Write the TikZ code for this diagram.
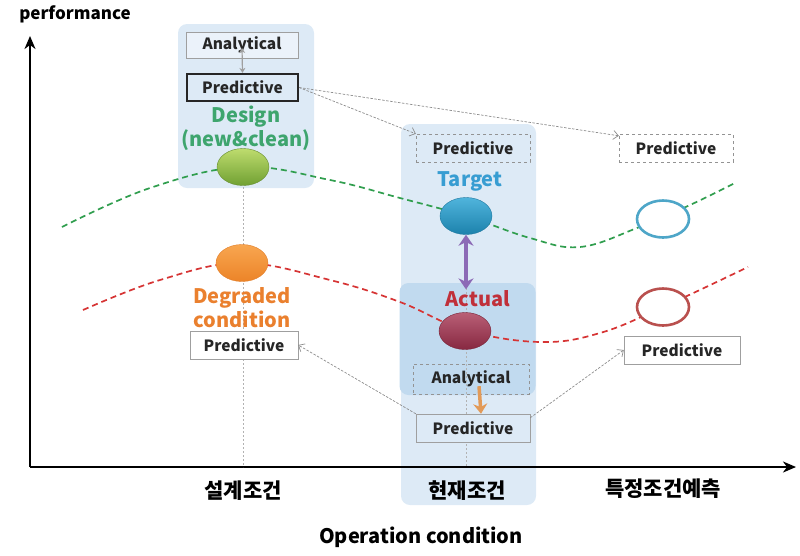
\documentclass[tikz,border=0pt]{standalone}
\usepackage{fontspec}
\setmainfont{Noto Sans CJK KR}
\usetikzlibrary{shapes.geometric, arrows, arrows.meta, positioning}
\definecolor{panelblue}{RGB}{221,234,246}
\definecolor{innerblue}{RGB}{193,218,239}
\definecolor{designgreen}{RGB}{62,165,110}
\definecolor{curvegreen}{RGB}{48,158,78}
\definecolor{curvered}{RGB}{214,52,52}
\definecolor{targetblue}{RGB}{56,157,210}
\definecolor{actualred}{RGB}{192,48,58}
\definecolor{degorange}{RGB}{234,128,46}
\definecolor{arrowpurple}{RGB}{140,106,182}
\definecolor{arroworange}{RGB}{226,154,88}
\definecolor{ringblue}{RGB}{78,166,200}
\definecolor{ringred}{RGB}{185,80,78}
\tikzstyle{panel} = [rectangle, rounded corners=9pt, fill=panelblue, draw=none]
\tikzstyle{box} = [rectangle, minimum width=114pt, minimum height=28pt, 
text centered, 
draw=gray!75, 
font=\bfseries\fontsize{15.5}{17}\selectfont, 
text=black!85]
\tikzstyle{dashbox} = [box, dashed, draw=gray!85]
\tikzstyle{blob} = [ellipse, minimum width=52pt, minimum height=37pt, inner sep=0pt, thin]
\tikzstyle{ring} = [blob, line width=2.6pt, fill=white]
\tikzstyle{tag} = [font=\bfseries\fontsize{20}{24}\selectfont, align=center]
\tikzstyle{trend} = [line width=1.7pt, dash pattern=on 6pt off 4pt]
\tikzstyle{guide} = [gray!60, thin, dash pattern=on 2pt off 2pt]
\tikzstyle{link} = [gray!90, line width=0.7pt, dash pattern=on 2.5pt off 1.5pt, -{Straight Barb[length=5pt, width=9pt]}]
\tikzstyle{arrow} = [line width=2pt, -{Stealth[length=13pt, width=11pt, inset=4pt]}]
\tikzstyle{fat} = [line width=3.5pt, {Stealth[length=11pt, width=15pt]}-{Stealth[length=11pt, width=15pt]}]

\begin{document}
\begin{tikzpicture}[x=1pt, y=-1pt]
        \useasboundingbox (0,0) rectangle (800,555);
        % panels
        \node (lpanel) [panel, minimum width=136pt, minimum height=164pt] at (246,106) {};
        \node (mpanel) [panel, minimum width=135pt, minimum height=381pt] at (468.5,314.5) {};
        \node (ipanel) [panel, fill=innerblue, minimum width=136pt, minimum height=112pt] at (467.5,339) {};
        % axes
        \coordinate (o) at (30,467);
        \coordinate (ytip) at (30,36);
        \coordinate (xtip) at (796,467);
        \draw [arrow] (o) -- (ytip);
        \draw [arrow] (o) -- (xtip);
        \node (perf) at (75,14) {\bfseries\fontsize{17}{19}\selectfont performance};
        \node (op) at (421,537) {\bfseries\fontsize{20}{22}\selectfont Operation condition};
        \node (c1) at (243,491) {\bfseries\fontsize{21}{23}\selectfont 설계조건};
        \node (c2) at (467,491) {\bfseries\fontsize{21}{23}\selectfont 현재조건};
        \node (c3) at (663,489) {\bfseries\fontsize{21}{23}\selectfont 특정조건예측};
        % state points
        \coordinate (desg) at (243,167);
        \coordinate (tgtp) at (466,216);
        \draw [guide] (desg) -- (desg |- o);
        \draw [guide] (tgtp) -- (tgtp |- o);
        \draw [trend, curvegreen] plot[smooth, tension=0.65] coordinates {(62,227) (150,188) (243,167) (330,180) (400,198) (466,216) (530,238) (580,247) (637,228) (690,205) (735,183)};
        \draw [trend, curvered] plot[smooth, tension=0.65] coordinates {(83,310) (160,280) (242,263) (330,280) (400,302) (465,330) (540,342) (600,333) (663,307) (748,267)};
        \node (des) [blob, top color={rgb,255:red,190;green,220;blue,110}, bottom color={rgb,255:red,112;green,160;blue,50}, draw={rgb,255:red,100;green,140;blue,45}] at (desg) {};
        \node (deg) [blob, top color={rgb,255:red,248;green,166;blue,80}, bottom color={rgb,255:red,236;green,132;blue,40}, draw={rgb,255:red,225;green,125;blue,40}] at (242,263) {};
        \node (tgt) [blob, top color={rgb,255:red,80;green,180;blue,220}, bottom color={rgb,255:red,28;green,130;blue,172}, draw={rgb,255:red,30;green,120;blue,160}] at (tgtp) {};
        \node (act) [blob, top color={rgb,255:red,185;green,95;blue,118}, bottom color={rgb,255:red,135;green,40;blue,65}, draw={rgb,255:red,120;green,35;blue,55}] at (465,331) {};
        \node (tgtf) [ring, draw=ringblue] at (663,219) {};
        \node (actf) [ring, draw=ringred] at (663,307) {};
        % boxes
        \node (pred1) [box, line width=2.2pt, draw=black!85, fill=panelblue, minimum width=111pt, minimum height=27pt] at (242.5,87.5) {Predictive};
        \node (ana1) [box, fill=panelblue!60!white, minimum width=112pt, minimum height=26pt] at (242,45) {Analytical};
        \node (pred2) [dashbox] at (473,148) {Predictive};
        \node (pred3) [dashbox, fill=white] at (676,148) {Predictive};
        \node (pred4) [box, fill=white, minimum width=108pt] at (244,345) {Predictive};
        \node (ana2) [dashbox, minimum width=116pt, minimum height=30pt] at (471,379) {Analytical};
        \node (pred5) [box, fill=panelblue] at (473,428) {Predictive};
        \node (pred6) [box, fill=white, minimum width=116pt] at (682,350) {Predictive};
        % labels
        \node (desl) [tag, text=designgreen] at (246,128) {Design\\(new\&clean)};
        \node (degl) [tag, text=degorange] at (242,308) {Degraded\\condition};
        \node (tgtl) [tag, text=targetblue] at (470,181) {Target};
        \node (actl) [tag, text=actualred] at (478,299) {Actual};
        % connectors
        \draw [gray!75, line width=1.2pt, {Stealth[length=5pt,width=6pt]}-{Stealth[length=5pt,width=6pt]}] ([yshift=-3pt]ana1.center) -- (pred1.north);
        \draw [link] (pred1.east) -- (pred2.north west);
        \draw [link] (pred1.east) -- ([yshift=-2pt]pred3.north west);
        \draw [link] (pred5.north west) -- (pred4.east);
        \draw [link] ([yshift=-4pt]pred5.north east) -- (pred6.west);
        \draw [fat, arrowpurple] (tgt.south) -- ([yshift=-2pt]actl.north -| tgt.south);
        \draw [arroworange, line width=3.5pt, -{Stealth[length=10pt, width=14pt]}] ([xshift=8pt,yshift=8pt]ana2.south) -- ([xshift=8pt]pred5.north);
    \end{tikzpicture}
\end{document}
